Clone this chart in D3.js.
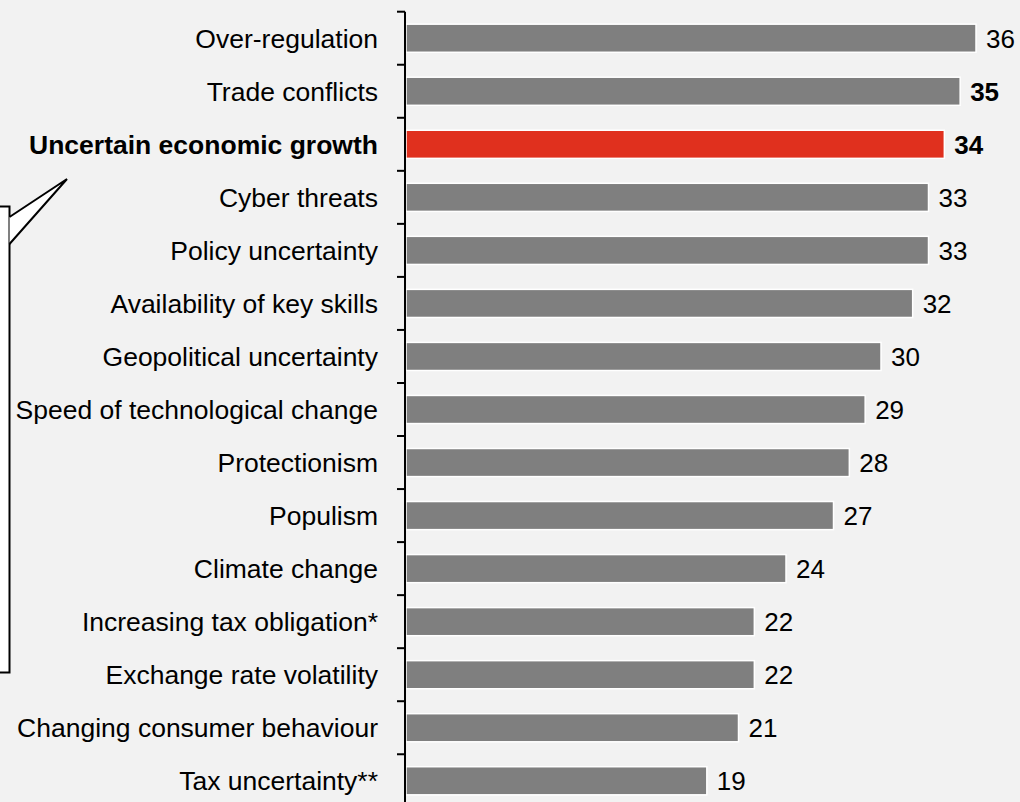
<!DOCTYPE html>
<html lang="en">
<head>
<meta charset="UTF-8">
<title>Threats</title>
<script src="https://cdn.jsdelivr.net/npm/d3@7"></script>
<style>
  body { margin: 0; background: #f2f2f2; }
  svg text { font-family: "Liberation Sans", Arial, sans-serif; }
</style>
</head>
<body>
<script>
// data
var categories = ["Over-regulation", "Trade conflicts", "Uncertain economic growth", "Cyber threats",
  "Policy uncertainty", "Availability of key skills", "Geopolitical uncertainty",
  "Speed of technological change", "Protectionism", "Populism", "Climate change",
  "Increasing tax obligation*", "Exchange rate volatility", "Changing consumer behaviour",
  "Tax uncertainty**"];
var values = [36, 35, 34, 33, 33, 32, 30, 29, 28, 27, 24, 22, 22, 21, 19];
var highlighted = "Uncertain economic growth";
var boldValues = ["Trade conflicts", "Uncertain economic growth"];

var W = 1020, H = 802;
var svg = d3.select("body").append("svg")
    .attr("width", W).attr("height", H);

svg.append("rect").attr("width", W).attr("height", H).attr("fill", "#f2f2f2");

var x = d3.scaleLinear().domain([0, 36]).range([406, 976]);
var y = d3.scaleBand().domain(categories).range([11.7, 11.7 + 53.04 * 15]).paddingInner(0.47).paddingOuter(0.235);

// callout box on the left
svg.append("rect")
    .attr("x", -20).attr("y", 206.5).attr("width", 29.5).attr("height", 466)
    .attr("fill", "#fff").attr("stroke", "#000").attr("stroke-width", 2);
svg.append("path")
    .attr("d", "M9.5,217 L67,179 L9.5,244")
    .attr("fill", "#fff").attr("stroke", "#000").attr("stroke-width", 2)
    .attr("stroke-linejoin", "miter");

// bars
svg.selectAll("rect.bar")
    .data(categories)
    .enter().append("rect")
    .attr("class", "bar")
    .attr("x", x(0))
    .attr("y", function(d) { return y(d); })
    .attr("width", function(d, i) { return x(values[i]) - x(0); })
    .attr("height", y.bandwidth())
    .attr("fill", function(d) { return d === highlighted ? "#e0301e" : "#7f7f7f"; })
    .attr("stroke", "#fff").attr("stroke-width", 1.5);

// value labels
svg.selectAll("text.val")
    .data(categories)
    .enter().append("text")
    .attr("class", "val")
    .attr("x", function(d, i) { return x(values[i]) + 10; })
    .attr("y", function(d) { return y(d) + y.bandwidth() / 2; })
    .attr("dy", "0.36em")
    .attr("font-size", 26)
    .attr("font-weight", function(d) { return boldValues.indexOf(d) >= 0 ? "bold" : "normal"; })
    .attr("fill", "#000")
    .text(function(d, i) { return values[i]; });

// axis with category labels
var tickPos = d3.range(categories.length + 1).map(function(i) { return 11.7 + 53.04 * i; });
var axisG = svg.append("g");
axisG.append("line")
    .attr("x1", 405).attr("x2", 405).attr("y1", tickPos[0]).attr("y2", H + 5)
    .attr("stroke", "#000").attr("stroke-width", 2);
axisG.selectAll("line.tick")
    .data(tickPos)
    .enter().append("line")
    .attr("class", "tick")
    .attr("x1", 397).attr("x2", 405)
    .attr("y1", function(d) { return d; }).attr("y2", function(d) { return d; })
    .attr("stroke", "#000").attr("stroke-width", 2);

axisG.selectAll("text.lab")
    .data(categories)
    .enter().append("text")
    .attr("class", "lab")
    .attr("x", 378)
    .attr("y", function(d) { return y(d) + y.bandwidth() / 2; })
    .attr("dy", "0.36em")
    .attr("text-anchor", "end")
    .attr("font-size", 26.5)
    .attr("font-weight", function(d) { return d === highlighted ? "bold" : "normal"; })
    .attr("fill", "#000")
    .text(function(d) { return d; });
</script>
</body>
</html>
